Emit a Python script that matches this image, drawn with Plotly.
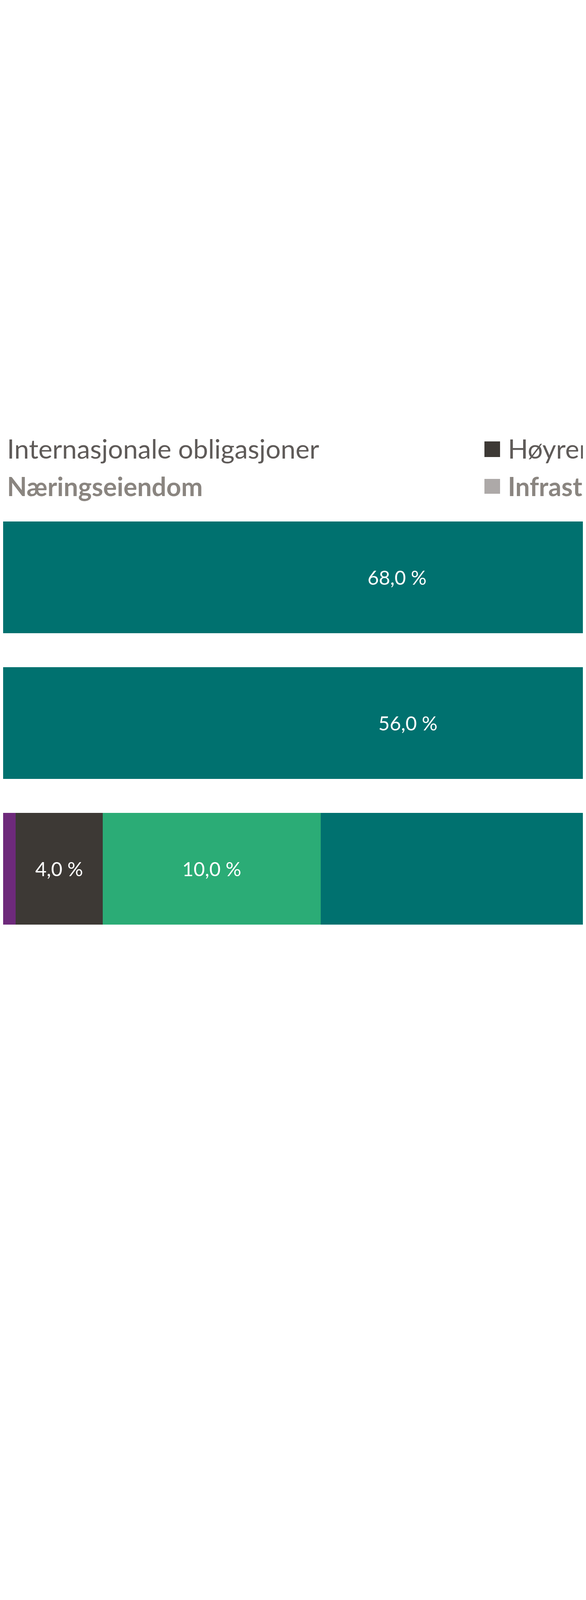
import plotly.graph_objects as go

W, H = 1500, 4204
categories = ["A", "B", "C"]
# series values (%) stacked from 0; only part of the chart is visible in the view
series_names = ["Andre", "Eiendom", "Høyrente", "Aksjer", "Obligasjoner"]
series_colors = ["#ADA9A8", "#6E2A7B", "#3D3935", "#2BAC76", "#00716F"]
values = {
    "Andre":        [0.0, 6.5, 15.3],
    "Eiendom":      [0.0, 0.0, 1.2],
    "Høyrente":     [0.0, 0.0, 4.0],
    "Aksjer":       [0.0, 0.0, 10.0],
    "Obligasjoner": [68.0, 56.0, 69.5],
}
labels = {
    "Andre": ["", "", ""],
    "Eiendom": ["", "", ""],
    "Høyrente": ["", "", "4,0 %"],
    "Aksjer": ["", "", "10,0 %"],
    "Obligasjoner": ["68,0 %", "56,0 %", ""],
}
px_per_pct = 55.8
x_start = 15.93

fig = go.Figure()
for name, col in zip(series_names, series_colors):
    fig.add_trace(go.Bar(
        y=categories, x=values[name], orientation="h", name=name,
        marker=dict(color=col, line=dict(width=0)),
        text=labels[name], textposition="inside", insidetextanchor="middle",
        textfont=dict(color="white", size=50, family="Lato"),
        cliponaxis=True, showlegend=False,
    ))

fig.update_layout(
    width=W, height=H, barmode="stack", bargap=0.233,
    margin=dict(l=0, r=0, t=0, b=0),
    paper_bgcolor="white", plot_bgcolor="white",
    xaxis=dict(range=[x_start, x_start + W / px_per_pct], visible=False),
    yaxis=dict(range=[(H - 1470) / 373, -1470 / 373], visible=False,
               categoryorder="array", categoryarray=categories),
    uniformtext=dict(mode=False),
)

def py(p):
    return 1 - p / H

legend_font = "Lato"
fig.add_annotation(x=8 / W, y=py(1166), xref="paper", yref="paper", xanchor="left", yanchor="bottom",
                   text="Internasjonale obligasjoner", showarrow=False,
                   font=dict(size=68, color="#5F5B59", family=legend_font), yshift=-16)
fig.add_annotation(x=8 / W, y=py(1262), xref="paper", yref="paper", xanchor="left", yanchor="bottom",
                   text="<b>Næringseiendom</b>", showarrow=False,
                   font=dict(size=66, color="#8A8580", family=legend_font), yshift=-16)
fig.add_annotation(x=1290 / W, y=py(1166), xref="paper", yref="paper", xanchor="left", yanchor="bottom",
                   text="Høyrentemarkeder", showarrow=False,
                   font=dict(size=68, color="#5F5B59", family=legend_font), yshift=-16)
fig.add_annotation(x=1290 / W, y=py(1262), xref="paper", yref="paper", xanchor="left", yanchor="bottom",
                   text="<b>Infrastruktur</b>", showarrow=False,
                   font=dict(size=66, color="#8A8580", family=legend_font), yshift=-16)
fig.add_shape(type="rect", xref="paper", yref="paper", x0=1232 / W, x1=1272 / W,
              y0=py(1162), y1=py(1122), fillcolor="#3D3935", line=dict(width=0))
fig.add_shape(type="rect", xref="paper", yref="paper", x0=1232 / W, x1=1272 / W,
              y0=py(1256), y1=py(1218), fillcolor="#ADA9A8", line=dict(width=0))

fig.write_html("out.html")
